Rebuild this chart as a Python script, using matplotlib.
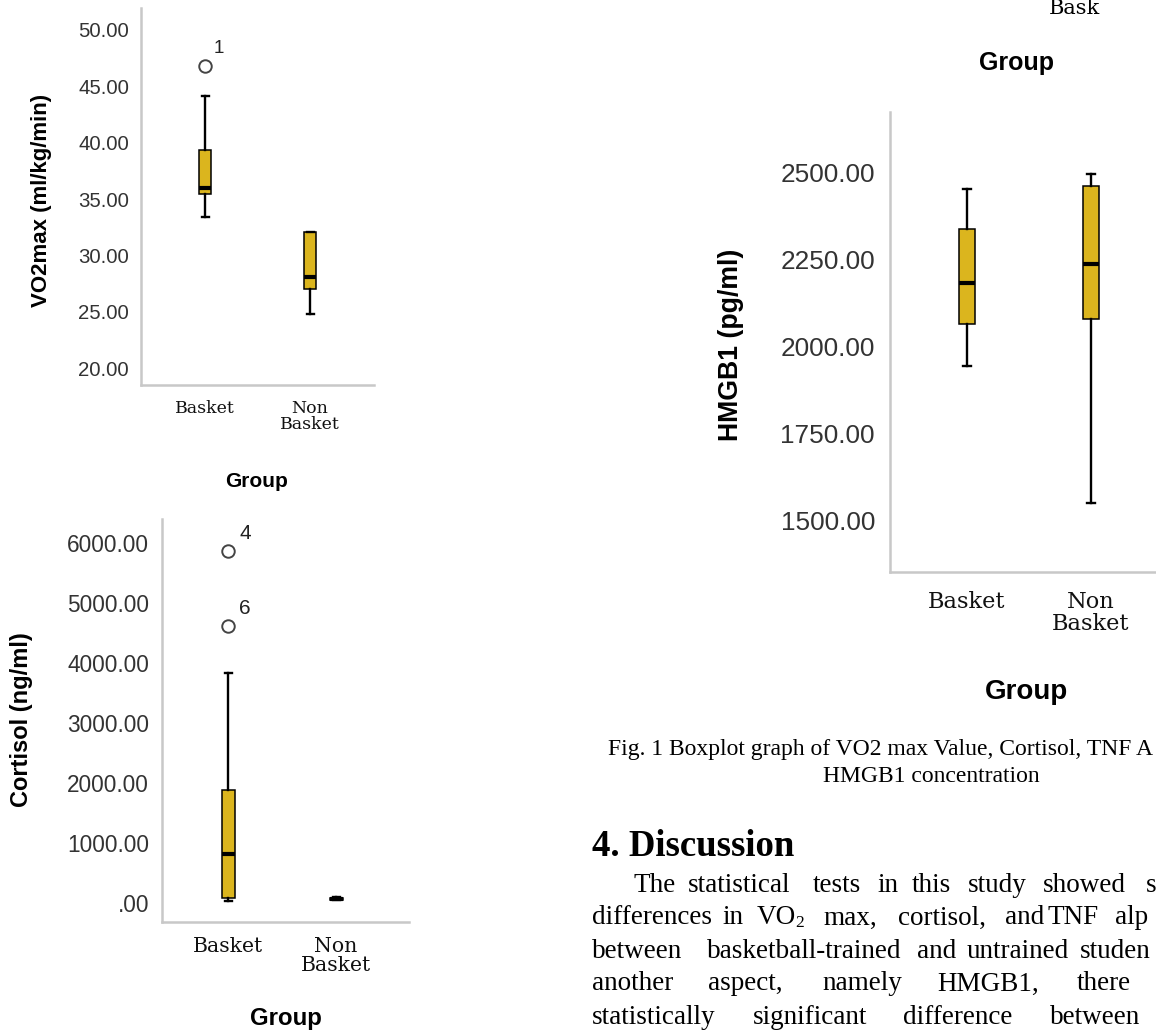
import matplotlib
matplotlib.use('Agg')
import matplotlib.pyplot as plt
from matplotlib.ticker import FuncFormatter

# page size in pixels (dpi 100)
W, H = 1156, 1032
GOLD = '#dbb51e'
SPINE = '#c8c8c8'

plt.rcParams['font.family'] = ['Liberation Sans', 'DejaVu Sans']

#=================
# DATA
#=================
groups = ['Basket', 'Non\nBasket']

# VO2max (ml/kg/min)
vo2_whislo = [33.44, 24.84]
vo2_q1 = [35.46, 27.06]
vo2_med = [35.96, 28.13]
vo2_q3 = [39.36, 32.06]
vo2_whishi = [44.18, 32.10]
vo2_fliers = [[46.81], []]
vo2_ids = [['1'], []]
vo2_ticks = [20, 25, 30, 35, 40, 45, 50]

# Cortisol (ng/ml)
cort_whislo = [40, 45]
cort_q1 = [88, 55]
cort_med = [817, 70]
cort_q3 = [1883, 85]
cort_whishi = [3833, 95]
cort_fliers = [[5867, 4617], []]
cort_ids = [['4', '6'], []]
cort_ticks = [0, 1000, 2000, 3000, 4000, 5000, 6000]

# HMGB1 (pg/ml)
hm_whislo = [1945, 1552]
hm_q1 = [2066, 2080]
hm_med = [2184, 2238]
hm_q3 = [2339, 2463]
hm_whishi = [2454, 2497]
hm_fliers = [[], []]
hm_ids = [[], []]
hm_ticks = [1500, 1750, 2000, 2250, 2500]

# page text, as far as the crop shows it
caption1 = 'Fig. 1 Boxplot graph of VO2 max Value, Cortisol, TNF A'
caption2 = 'HMGB1 concentration'
heading = '4. Discussion'
# justified body lines: (x pixel, word)
body_lines = [
    [(633, 'The'), (688, 'statistical'), (813, 'tests'), (877, 'in'), (912, 'this'),
     (968, 'study'), (1043, 'showed'), (1146, 's')],
    [(592, 'differences'), (722, 'in'), (757, 'VO'), (823, 'max,'), (898, 'cortisol,'),
     (1005, 'and'), (1047, 'TNF'), (1115, 'alp')],
    [(592, 'between'), (707, 'basketball-trained'), (917, 'and'), (967, 'untrained'),
     (1080, 'studen')],
    [(592, 'another'), (708, 'aspect,'), (822, 'namely'), (937, 'HMGB1,'), (1077, 'there')],
    [(592, 'statistically'), (753, 'significant'), (903, 'difference'), (1050, 'between')],
]
body_y = [885, 918, 951, 984, 1017]


#=================
# FUNCTIONS
#=================
def fx(x):
    return x / W


def fy(y):
    return 1 - y / H


def spss_fmt(v, pos):
    s = '%.2f' % v
    if s.startswith('0.'):
        s = s[1:]
    return s


def draw_panel(fig, box, xpix, tpix, whislo, q1, med, q3, whishi, fliers, ids, ticks,
               box_px, cap_px, tick_pt, tick_pad, xt_pt, xt_pad, id_pt, id_off):
    x0, y0, x1, y1 = box
    ax = fig.add_axes([fx(x0), fy(y1), (x1 - x0) / W, (y1 - y0) / H])
    # x scale from the pixel spots of the two boxes
    ppu_x = xpix[1] - xpix[0]
    ax.set_xlim(1 - (xpix[0] - x0) / ppu_x, 2 + (x1 - xpix[1]) / ppu_x)
    # y scale from two tick positions
    (va, pa), (vb, pb) = tpix
    ppu_y = (pa - pb) / (vb - va)
    ax.set_ylim(va - (y1 - pa) / ppu_y, vb + (pb - y0) / ppu_y)

    stats = []
    for i in range(2):
        stats.append(dict(whislo=whislo[i], q1=q1[i], med=med[i], q3=q3[i],
                          whishi=whishi[i], fliers=fliers[i]))
    ax.bxp(stats, positions=[1, 2], widths=box_px / ppu_x, capwidths=cap_px / ppu_x,
           patch_artist=True, manage_ticks=False,
           boxprops=dict(facecolor=GOLD, edgecolor='black', linewidth=1.1),
           medianprops=dict(color='black', linewidth=3),
           whiskerprops=dict(color='black', linewidth=1.7),
           capprops=dict(color='black', linewidth=1.7),
           flierprops=dict(marker='o', markerfacecolor='white', markeredgecolor='#444444',
                           markersize=9, markeredgewidth=1.4))
    for i in range(2):
        for v, lab in zip(fliers[i], ids[i]):
            ax.annotate(lab, (i + 1, v), xytext=id_off, textcoords='offset pixels',
                        ha='left', va='center', fontsize=id_pt, color='#222222')

    for s in ['top', 'right']:
        ax.spines[s].set_visible(False)
    for s in ['left', 'bottom']:
        ax.spines[s].set_color(SPINE)
        ax.spines[s].set_linewidth(1.8)
    ax.set_yticks(ticks)
    ax.yaxis.set_major_formatter(FuncFormatter(spss_fmt))
    ax.tick_params(axis='y', length=0, labelsize=tick_pt, labelcolor='#333333', pad=tick_pad)
    ax.set_xticks([1, 2], groups, fontfamily='DejaVu Serif', fontsize=xt_pt, linespacing=0.95)
    ax.tick_params(axis='x', length=0, pad=xt_pad, labelcolor='#111111')
    ax.set_facecolor('none')
    return ax


#=================
# MAIN
#=================
fig = plt.figure(figsize=(W / 100, H / 100), dpi=100)

draw_panel(fig, (141, 8, 374, 385), (205, 310), ((20, 368.3), (50, 30.0)),
           vo2_whislo, vo2_q1, vo2_med, vo2_q3, vo2_whishi, vo2_fliers, vo2_ids, vo2_ticks,
           box_px=12, cap_px=7, tick_pt=14.7, tick_pad=8.6, xt_pt=12.5, xt_pad=10.5,
           id_pt=13.5, id_off=(9, 17))
fig.text(fx(42), fy(200), 'VO2max (ml/kg/min)', rotation=90, ha='center', va='center',
         fontsize=16, fontweight='bold')
fig.text(fx(257), fy(482), 'Group', ha='center', va='center', fontsize=15, fontweight='bold')

draw_panel(fig, (162, 519, 409, 922), (228, 336), ((0, 903), (6000, 543)),
           cort_whislo, cort_q1, cort_med, cort_q3, cort_whishi, cort_fliers, cort_ids,
           cort_ticks, box_px=13, cap_px=7, tick_pt=16.3, tick_pad=9.4, xt_pt=14.7, xt_pad=11,
           id_pt=15, id_off=(11, 17))
fig.text(fx(22), fy(720), 'Cortisol (ng/ml)', rotation=90, ha='center', va='center',
         fontsize=17, fontweight='bold')
fig.text(fx(286), fy(1018), 'Group', ha='center', va='center', fontsize=17.3,
         fontweight='bold')

draw_panel(fig, (890, 112, 1168, 572), (967, 1091), ((1500, 521), (2500, 173)),
           hm_whislo, hm_q1, hm_med, hm_q3, hm_whishi, hm_fliers, hm_ids, hm_ticks,
           box_px=16, cap_px=8, tick_pt=18.8, tick_pad=10.8, xt_pt=16.2, xt_pad=14,
           id_pt=13, id_off=(11, 16))
fig.text(fx(731), fy(345), 'HMGB1 (pg/ml)', rotation=90, ha='center', va='center',
         fontsize=19.2, fontweight='bold')
fig.text(fx(1027), fy(692), 'Group', ha='center', va='center', fontsize=20, fontweight='bold')

# remains of the panel above the HMGB1 plot
fig.text(fx(1074), fy(9), 'Bask', ha='center', va='center', fontsize=15,
         fontfamily='DejaVu Serif')
fig.text(fx(1017), fy(63), 'Group', ha='center', va='center', fontsize=18, fontweight='bold')

# caption and text of the page
serif = 'Liberation Serif'
fig.text(fx(608), fy(750), caption1, ha='left', va='center', fontsize=17, fontfamily=serif)
fig.text(fx(931), fy(777), caption2, ha='center', va='center', fontsize=17, fontfamily=serif)
fig.text(fx(592), fy(847), heading, ha='left', va='center', fontsize=26.5,
         fontweight='bold', fontfamily=serif)
for y, words in zip(body_y, body_lines):
    for x, w in words:
        fig.text(fx(x), fy(y), w, ha='left', va='center', fontsize=19.5, fontfamily=serif)
        if w == 'VO':
            # subscript 2 of VO2
            fig.text(fx(x + 38), fy(y + 5), '2', ha='left', va='center', fontsize=12.5,
                     fontfamily=serif)

fig.savefig('out.png', dpi=100)
